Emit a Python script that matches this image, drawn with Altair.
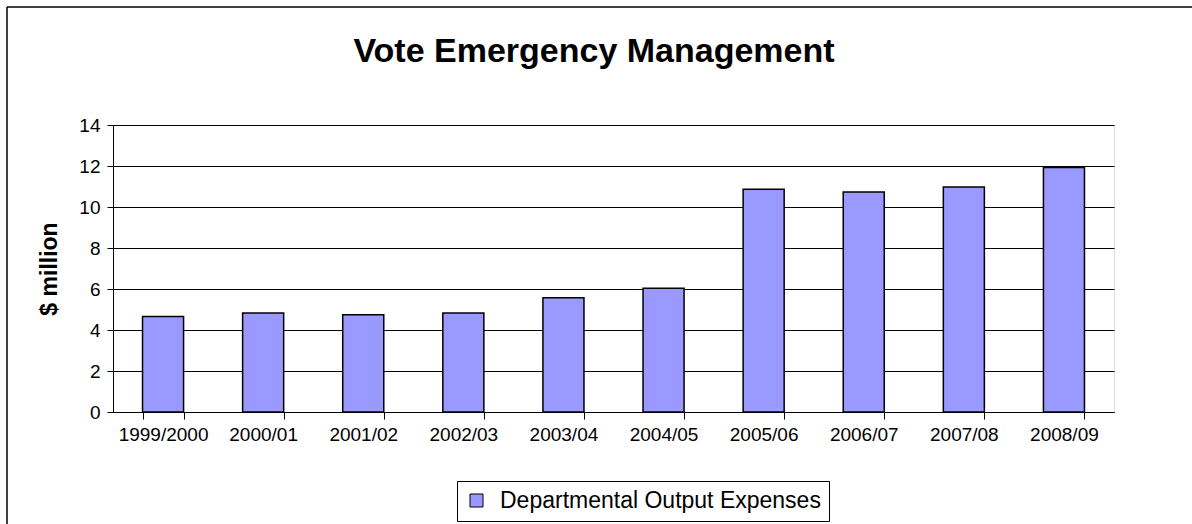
import altair as alt
import pandas as pd

years = ["1999/2000", "2000/01", "2001/02", "2002/03", "2003/04",
         "2004/05", "2005/06", "2006/07", "2007/08", "2008/09"]
values = [4.66, 4.83, 4.74, 4.83, 5.57, 6.04, 10.87, 10.73, 10.97, 11.93]
series = "Departmental Output Expenses"
title_text = "Vote Emergency Management"

df = pd.DataFrame({"year": years, "value": values, "series": [series] * len(years)})

FONT = "Liberation Sans"

bars = alt.Chart(df).mark_bar(stroke="black", strokeWidth=1.5).encode(
    x=alt.X("year:N", sort=years,
            scale=alt.Scale(paddingInner=0.59, paddingOuter=0.295),
            axis=alt.Axis(title=None, tickBand="extent", labelAngle=0,
                          labelFontSize=19, labelFont=FONT, labelColor="black",
                          labelPadding=6, domainColor="black", tickColor="black",
                          tickSize=7, grid=False)),
    y=alt.Y("value:Q", scale=alt.Scale(domain=[0, 14], nice=False),
            axis=alt.Axis(title="$ million", values=[0, 2, 4, 6, 8, 10, 12, 14],
                          titleFont=FONT, titleFontSize=23, titleFontWeight="bold",
                          titleColor="black", titlePadding=17,
                          labelFontSize=19, labelFont=FONT, labelColor="black",
                          labelPadding=7, domainColor="black", tickColor="black",
                          tickSize=6, grid=True, gridColor="black", gridWidth=1)),
    color=alt.Color("series:N", scale=alt.Scale(range=["#9999FF"]),
                    legend=alt.Legend(title=None, orient="none", legendX=344, legendY=356,
                                      strokeColor="black", fillColor="white",
                                      padding=8, labelFont=FONT, labelFontSize=23,
                                      labelColor="black", labelLimit=0,
                                      symbolType="square",
                                      symbolSize=169, symbolStrokeColor="black",
                                      symbolStrokeWidth=1, symbolOffset=0,
                                      labelOffset=12)),
)

frame_df = pd.DataFrame({"k": [0]})
frame_left = alt.Chart(frame_df).mark_rule(color="black", strokeWidth=1.5).encode(
    x=alt.value(-106), y=alt.value(-118), y2=alt.value(420))
frame_top = alt.Chart(frame_df).mark_rule(color="black", strokeWidth=1.5).encode(
    x=alt.value(-106), x2=alt.value(1100), y=alt.value(-118))
title = alt.Chart(frame_df).mark_text(font=FONT, fontSize=34, fontWeight="bold",
                                      color="black", align="center",
                                      baseline="alphabetic").encode(
    x=alt.value(481), y=alt.value(-63), text=alt.value(title_text))

chart = alt.layer(frame_left, frame_top, title, bars).properties(
    width=1001, height=287,
    autosize=alt.AutoSizeParams(type="none"),
    padding={"left": 113, "top": 125, "right": 78, "bottom": 112},
).configure_view(stroke="#999999", strokeWidth=1.5).configure(background="white")

chart.save("out.html", embed_options={"renderer": "svg", "actions": False})
